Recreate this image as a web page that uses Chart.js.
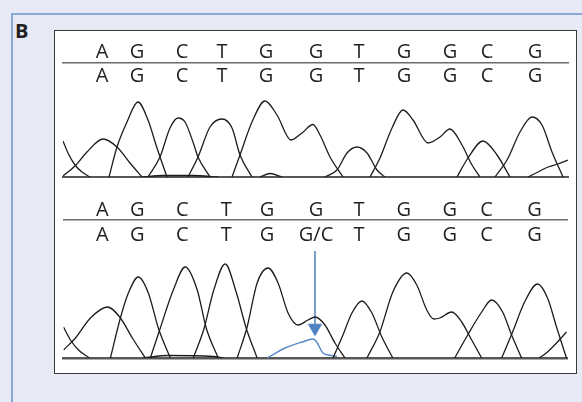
<!DOCTYPE html>
<html>
<head>
<meta charset="utf-8">
<script src="https://cdn.jsdelivr.net/npm/chart.js@4/dist/chart.umd.min.js"></script>
<style>
  html,body{margin:0;padding:0;}
  body{width:582px;height:402px;background:#e7e9f5;position:relative;overflow:hidden;font-family:"Open Sans",sans-serif;}
  #frame{position:absolute;left:11px;top:13px;width:580px;height:400px;border-left:2px solid #89a8d4;border-top:2px solid #89a8d4;}
  #lab{position:absolute;left:15px;top:21px;font-size:20px;line-height:20px;font-weight:700;color:#231f20;}
  #box{position:absolute;left:54px;top:30px;width:523px;height:344px;box-sizing:border-box;background:#fff;border:1.5px solid #3a3a3a;}
  canvas{position:absolute;}
  #c1{left:55px;top:31px;}
  #c2{left:55px;top:191px;}
</style>
</head>
<body>
<div id="frame"></div>
<div id="lab">B</div>
<div id="box"></div>
<canvas id="c1" width="521" height="160"></canvas>
<canvas id="c2" width="521" height="182"></canvas>
<script>
// ---- base calls (tick labels) ----
const topRow1 = ["A","G","C","T","G","G","T","G","G","C","G"];
const topRow2 = ["A","G","C","T","G","G","T","G","G","C","G"];
const botRow1 = ["A","G","C","T","G","G","T","G","G","C","G"];
const botRow2 = ["A","G","C","T","G","G/C","T","G","G","C","G"];
// base-call positions (scan units)
const topCallPos = [39,74,119,159,203,253,296,341,387,424,472];
const botCallPos = [39,74,119,163,204,253,296,341,387,424,472];

// ---- top chromatogram traces [scan, intensity] ----
const topTail  = [[0,36],[5,24],[12,12],[19,5],[27,0]];
const topA     = [[0,1],[12,11],[24,25],[40,38],[54,30],[67,14],[79,0]];
const topG1    = [[46,0],[54,30],[64,55],[75,75],[85,57],[94,29],[104,0]];
const topC1    = [[85,0],[97,20],[107,49],[115,59],[122,55],[130,35],[135,20],[147,0]];
const topT1    = [[125,0],[135,20],[147,50],[159,58],[169,49],[177,22],[189,0]];
const topGG1   = [[169,0],[177,22],[189,55],[202,76],[214,62],[228,37],[239,44],[250,52.5],[257,42],[267,20],[280,0]];
const topBump  = [[197,0],[207,3.5],[219,0]];
const topLow   = [[79,0],[100,1.5],[130,1.5],[155,0]];
const topT2    = [[262,0],[274,7],[284,24],[294,30],[304,24],[314,7],[322,0]];
const topGG2   = [[307,0],[317,19],[329,49],[340,67],[350,57],[365,34],[377,40],[387,48],[399,32],[409,12],[417,0]];
const topC2    = [[394,0],[405,19],[420,36],[434,22],[447,0]];
const topG3    = [[432,0],[444,17],[457,45],[469,60],[479,52],[489,25],[500,0]];
const topRise  = [[465,0],[475,5],[485,10],[495,13],[505,17]];

// ---- bottom chromatogram traces ----
const botTail  = [[0,31],[7,18],[15,8],[26,0]];
const botA     = [[0,8],[12,20],[27,40],[44,51],[57,40],[69,20],[82,0]];
const botG1    = [[47,0],[57,40],[65,65],[75,81],[85,65],[95,30],[107,0]];
const botC1    = [[87,0],[97,30],[110,68],[122,91],[134,68],[143,30],[155,0]];
const botT1    = [[130,0],[141,30],[150,66],[162,94],[173,66],[183,30],[194,0]];
const botGG1   = [[174,0],[184,31],[194,75],[205,90],[215,75],[225,45],[235,33],[245,38],[252,41],[262,33],[272,15],[282,0]];
const botLow   = [[80,0],[105,2.5],[150,1.5],[160,0]];
const botT2    = [[270,0],[280,23],[289,45],[299,57],[309,45],[319,21],[330,0]];
const botGG2   = [[304,0],[317,26],[330,66],[344,85],[354,73],[364,48],[371,39],[377,40],[389,46],[399,36],[409,18],[419,0]];
const botC2    = [[392,0],[405,23],[419,46],[429,58],[440,46],[449,23],[459,0]];
const botG3    = [[439,0],[450,26],[462,56],[475,74],[485,60],[494,31],[502,6],[504,0]];
const botRise  = [[477,0],[485,6],[494,15],[504,26]];
const botMutant= [[204,0],[222,10],[239,16],[250,19],[253,17],[260,5],[266,3],[274,1.5]];
const arrowPts = [[252,107],[252,30]];

const INK = "#1f1c1d";
const BLUE = "#5a8bc8";
const ARROW = "#4f80c0";
const tickFont = {family:"'Open Sans', sans-serif", size:20, lineHeight:1};

function trace(arr, color, width){
  return {data: arr.map(p=>({x:p[0], y:p[1]})), showLine:true, borderColor:color||INK,
          borderWidth:width||1.3, pointRadius:0, fill:false, cubicInterpolationMode:'monotone'};
}

function letterAxis(pos, labels, height, pad, weight, border){
  return {
    type:'linear', axis:'x', position:'top', min:0, max:505, weight:weight,
    grid:{display:false, drawTicks:false},
    border:{display:border, color:'#6b6b6b', width:1.5},
    afterBuildTicks:(s)=>{ s.ticks = pos.map(v=>({value:v})); },
    afterFit:(s)=>{ s.height = height; },
    ticks:{autoSkip:false, maxRotation:0, minRotation:0, padding:pad, color:'#231f20', font:tickFont,
           callback:(v,i)=>labels[i]}
  };
}

function makeChart(id, datasets, yMax, r1, r2, padBottom, baseWidth){
  return new Chart(document.getElementById(id), {
    type:'scatter',
    data:{datasets:datasets},
    options:{
      responsive:false, animation:false, devicePixelRatio:1,
      layout:{padding:{left:8, right:8, top:0, bottom:padBottom}},
      plugins:{legend:{display:false}, tooltip:{enabled:false}},
      scales:{
        x:{type:'linear', position:'bottom', min:0, max:505,
           grid:{display:false, drawTicks:false}, ticks:{display:false},
           border:{display:true, color:'#575757', width:baseWidth}},
        y:{type:'linear', min:0, max:yMax, display:false},
        r1:r1, r2:r2
      }
    }
  });
}

makeChart('c1', [
  trace(topTail), trace(topA), trace(topG1), trace(topC1), trace(topT1), trace(topGG1),
  trace(topBump), trace(topLow), trace(topT2), trace(topGG2), trace(topC2), trace(topG3), trace(topRise)
], 87,
  letterAxis(topCallPos, topRow1, 32, 1, 2, true),
  letterAxis(topCallPos, topRow2, 27, 4, 1, false), 14, 2);

makeChart('c2', [
  trace(botTail), trace(botA), trace(botG1), trace(botC1), trace(botT1), trace(botGG1),
  trace(botLow), trace(botT2), trace(botGG2), trace(botC2), trace(botG3), trace(botRise),
  trace(botMutant, BLUE, 1.5),
  {data: arrowPts.map(p=>({x:p[0], y:p[1]})), showLine:true, borderColor:ARROW, borderWidth:1.5,
   backgroundColor:ARROW, pointBorderColor:ARROW, pointStyle:'triangle', rotation:180,
   pointRadius:[0,7.5], pointBorderWidth:1, fill:false}
], 110,
  letterAxis(botCallPos, botRow1, 29, 0, 2, true),
  letterAxis(botCallPos, botRow2, 28, 3, 1, false), 15, 2.5);
</script>
</body>
</html>
